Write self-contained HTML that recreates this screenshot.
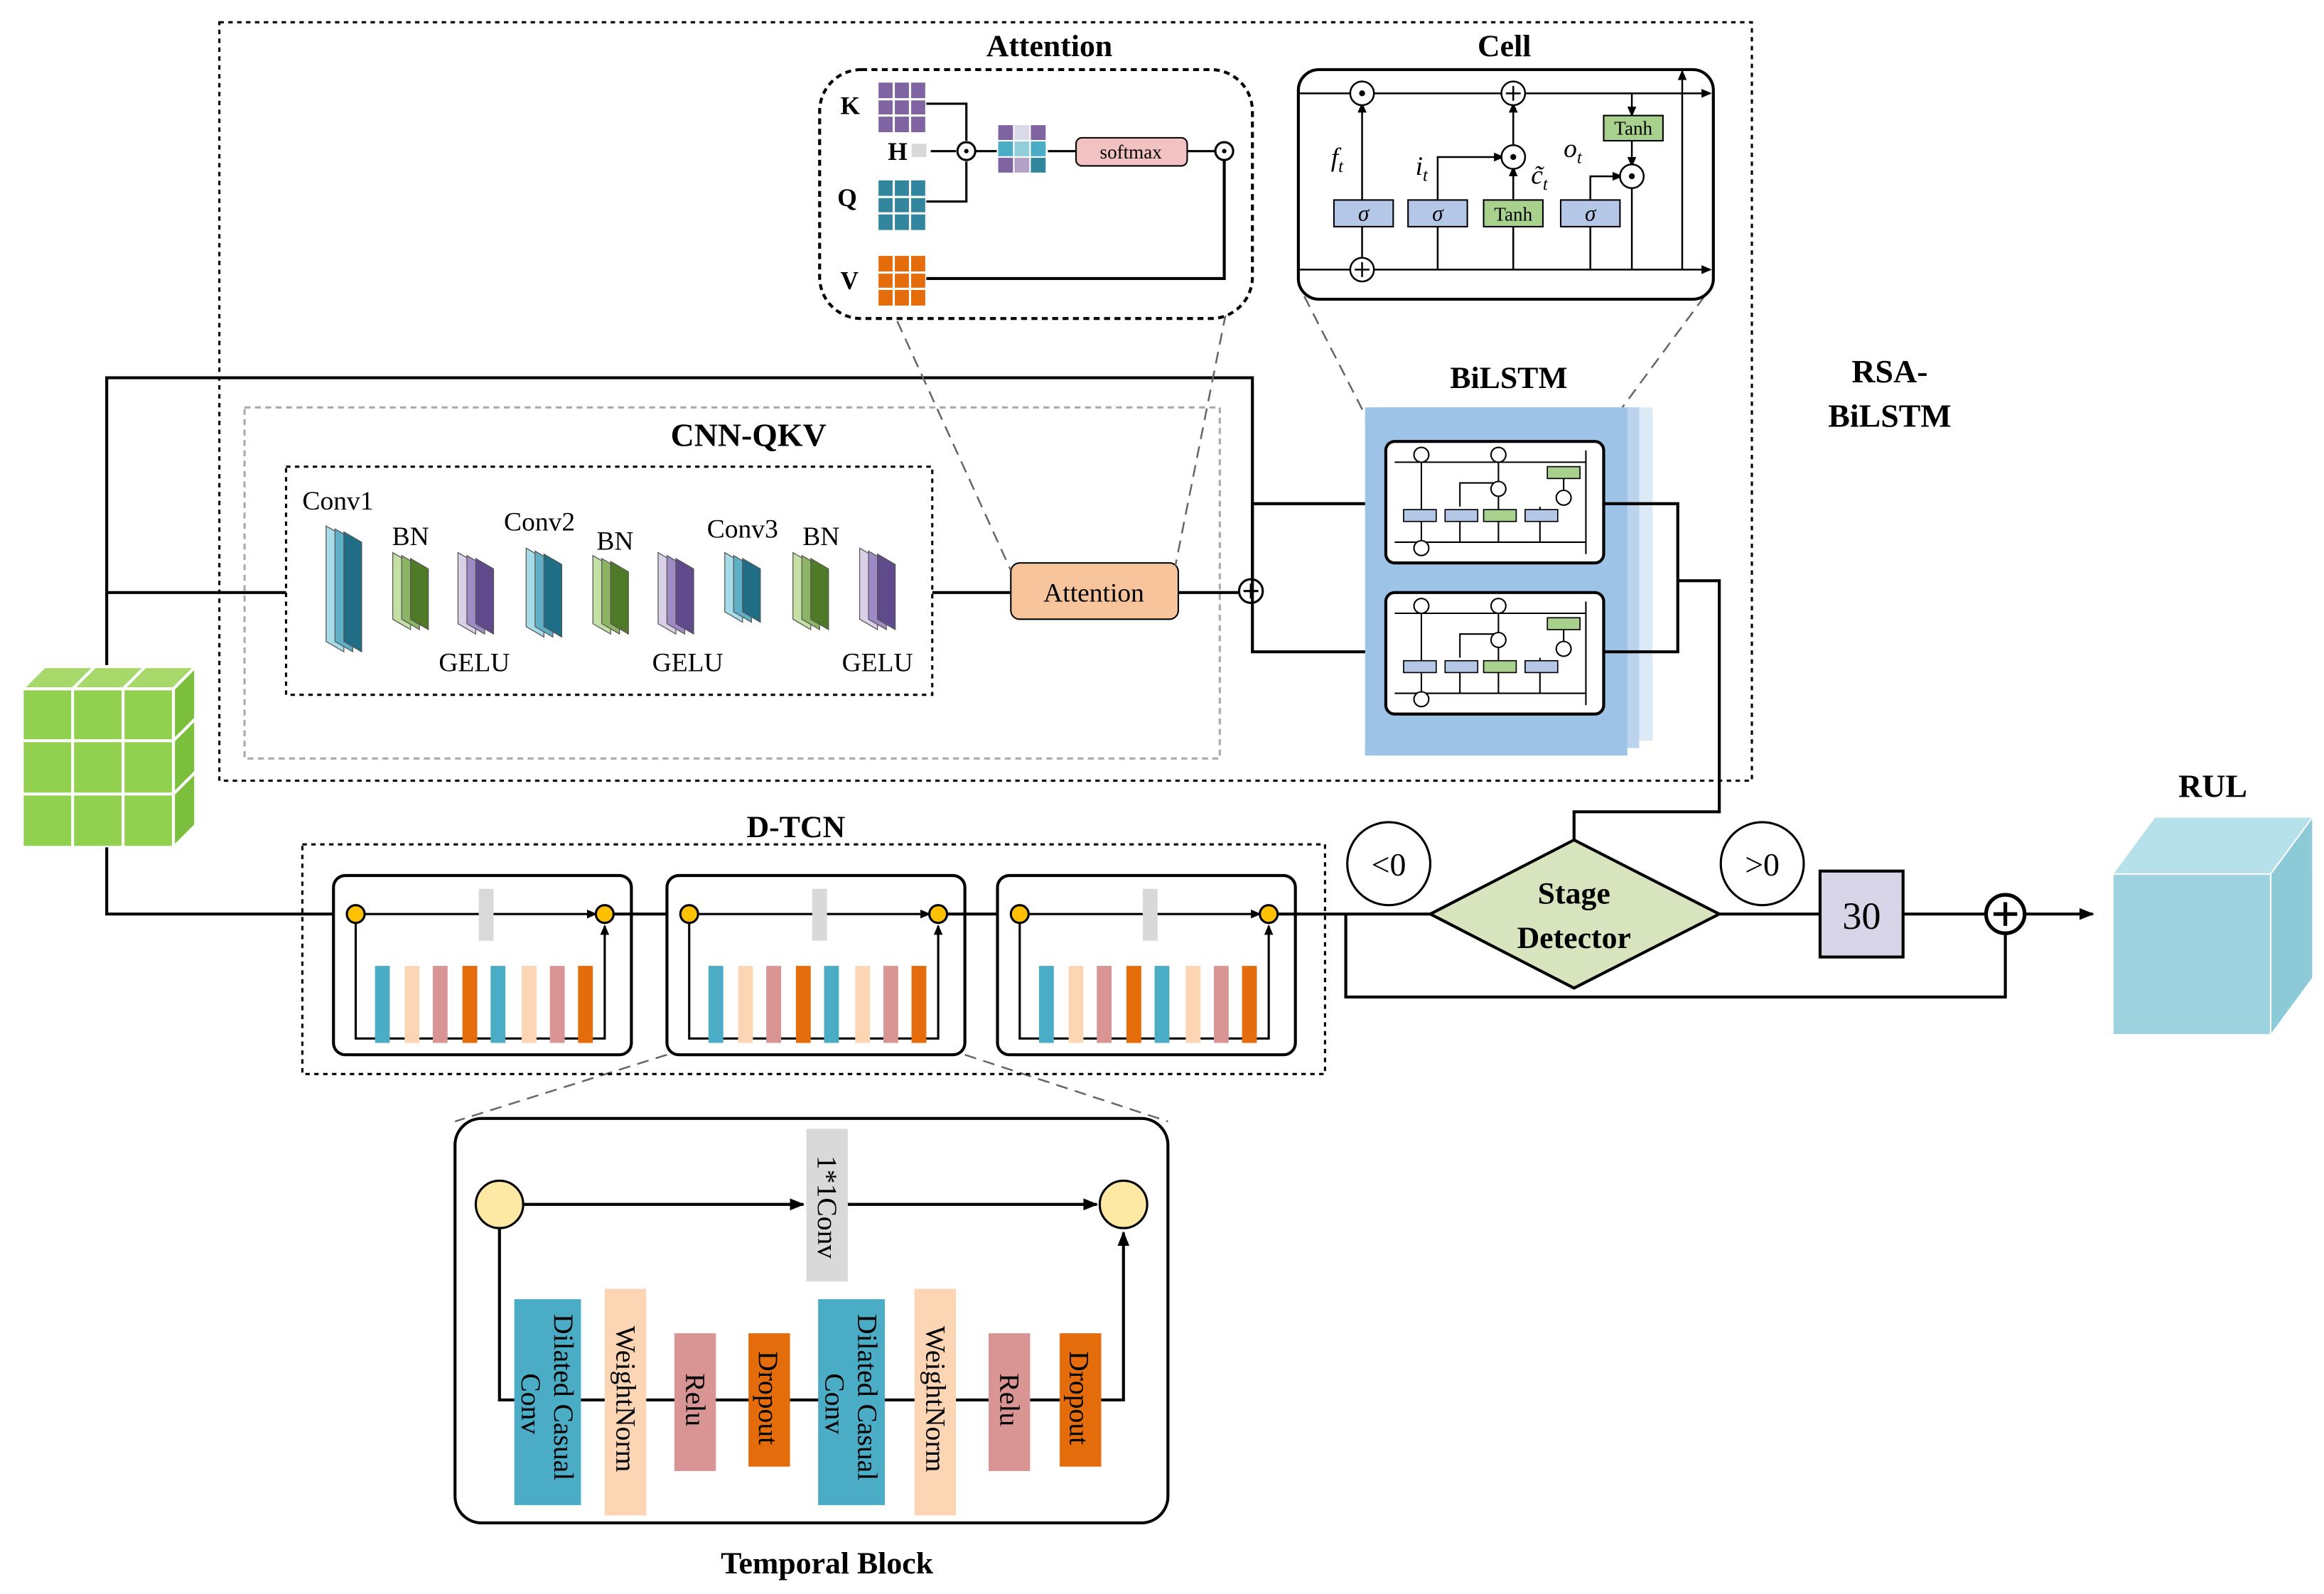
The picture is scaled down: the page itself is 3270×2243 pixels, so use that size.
<!DOCTYPE html>
<html><head><meta charset="utf-8"><style>
html,body{margin:0;padding:0;background:#fff;width:3270px;height:2243px;overflow:hidden}
svg{display:block}
text{font-family:"Liberation Serif",serif;fill:#000}
.b{font-weight:bold}
</style></head><body>
<svg width="3270" height="2243" viewBox="0 0 1568 1076" preserveAspectRatio="none" xmlns="http://www.w3.org/2000/svg">
<defs>
<marker id="ar" markerWidth="10" markerHeight="10" refX="9" refY="5" orient="auto" markerUnits="userSpaceOnUse"><path d="M0,1 L10,5 L0,9 z" fill="#000"/></marker>
<marker id="as" markerWidth="7" markerHeight="7" refX="6" refY="3.5" orient="auto" markerUnits="userSpaceOnUse"><path d="M0,0.5 L7,3.5 L0,6.5 z" fill="#000"/></marker>
<g id="tcn">
<rect x="0" y="0" width="201" height="121" rx="8" fill="#fff" stroke="#000" stroke-width="2"/>
<line x1="21" y1="26" x2="177" y2="26" stroke="#000" stroke-width="1.5" marker-end="url(#as)"/>
<rect x="98" y="9" width="10" height="35" fill="#d9d9d9"/>
<polyline points="15,32 15,110 183,110 183,34" fill="none" stroke="#000" stroke-width="1.5" marker-end="url(#as)"/>
<rect x="28" y="61" width="10" height="52" fill="#4bacc6"/>
<rect x="48" y="61" width="10" height="52" fill="#fcd5b5"/>
<rect x="67" y="61" width="10" height="52" fill="#d99594"/>
<rect x="87" y="61" width="10" height="52" fill="#e46c0a"/>
<rect x="106" y="61" width="10" height="52" fill="#4bacc6"/>
<rect x="127" y="61" width="10" height="52" fill="#fcd5b5"/>
<rect x="146" y="61" width="10" height="52" fill="#d99594"/>
<rect x="165" y="61" width="10" height="52" fill="#e46c0a"/>
<circle cx="15" cy="26" r="6" fill="#ffc000" stroke="#000" stroke-width="1.5"/>
<circle cx="183" cy="26" r="6" fill="#ffc000" stroke="#000" stroke-width="1.5"/>
</g>
<g id="lstm">
<rect x="0" y="0" width="147" height="82" rx="6" fill="#fff" stroke="#000" stroke-width="2"/>
<line x1="6" y1="14" x2="135" y2="14" stroke="#000"/>
<line x1="6" y1="68" x2="135" y2="68" stroke="#000"/>
<line x1="135" y1="6" x2="135" y2="76" stroke="#000"/>
<line x1="24" y1="14" x2="24" y2="68" stroke="#000"/>
<line x1="50" y1="52" x2="50" y2="68" stroke="#000"/>
<polyline points="50,44 50,28 76,28" fill="none" stroke="#000"/>
<line x1="76" y1="14" x2="76" y2="68" stroke="#000"/>
<line x1="104" y1="44" x2="104" y2="68" stroke="#000"/>
<line x1="120" y1="20" x2="120" y2="40" stroke="#000"/>
<rect x="12" y="46" width="22" height="8" fill="#b4c7e7" stroke="#000" stroke-width="0.8"/>
<rect x="40" y="46" width="22" height="8" fill="#b4c7e7" stroke="#000" stroke-width="0.8"/>
<rect x="66" y="46" width="22" height="8" fill="#a9d18e" stroke="#000" stroke-width="0.8"/>
<rect x="94" y="46" width="22" height="8" fill="#b4c7e7" stroke="#000" stroke-width="0.8"/>
<rect x="109" y="17" width="22" height="8" fill="#a9d18e" stroke="#000" stroke-width="0.8"/>
<circle cx="24" cy="9" r="5" fill="#fff" stroke="#000"/>
<circle cx="76" cy="9" r="5" fill="#fff" stroke="#000"/>
<circle cx="76" cy="32" r="5" fill="#fff" stroke="#000"/>
<circle cx="120" cy="38" r="5" fill="#fff" stroke="#000"/>
<circle cx="24" cy="72" r="5" fill="#fff" stroke="#000"/>
</g>
</defs>

<rect x="148" y="15" width="1034" height="512" fill="none" stroke="#000" stroke-width="1.5" stroke-dasharray="3,3"/>
<text x="1275" y="258" font-size="22" class="b" text-anchor="middle">RSA-</text>
<text x="1275" y="288" font-size="22" class="b" text-anchor="middle">BiLSTM</text>

<polyline points="72,450 72,255 845,255 845,392" fill="none" stroke="#000" stroke-width="2"/>
<line x1="72" y1="400" x2="193" y2="400" stroke="#000" stroke-width="2"/>

<rect x="165" y="275" width="658" height="237" fill="none" stroke="#aaa" stroke-width="1.5" stroke-dasharray="4,3"/>
<text x="505" y="301" font-size="22" class="b" text-anchor="middle">CNN-QKV</text>
<rect x="193" y="315" width="436" height="154" fill="none" stroke="#000" stroke-width="1.5" stroke-dasharray="3,3"/>
<g stroke="#555" stroke-width="0.6">
<polygon points="220,355 232,362 232,440 220,433" fill="#a5dce8"/>
<polygon points="226,357 238,364 238,440 226,433" fill="#5fb0c6"/>
<polygon points="232,359 244,366 244,440 232,433" fill="#1f6e86"/>
<polygon points="265,373 277,380 277,425 265,418" fill="#c5e0a5"/>
<polygon points="271,375 283,382 283,425 271,418" fill="#8db464"/>
<polygon points="277,377 289,384 289,425 277,418" fill="#4f7a28"/>
<polygon points="309,373 321,380 321,428 309,421" fill="#d9d0e8"/>
<polygon points="315,375 327,382 327,428 315,421" fill="#9e8ac4"/>
<polygon points="321,377 333,384 333,428 321,421" fill="#5f4a8b"/>
<polygon points="355,370 367,377 367,430 355,423" fill="#a5dce8"/>
<polygon points="361,372 373,379 373,430 361,423" fill="#5fb0c6"/>
<polygon points="367,374 379,381 379,430 367,423" fill="#1f6e86"/>
<polygon points="400,375 412,382 412,428 400,421" fill="#c5e0a5"/>
<polygon points="406,377 418,384 418,428 406,421" fill="#8db464"/>
<polygon points="412,379 424,386 424,428 412,421" fill="#4f7a28"/>
<polygon points="444,373 456,380 456,428 444,421" fill="#d9d0e8"/>
<polygon points="450,375 462,382 462,428 450,421" fill="#9e8ac4"/>
<polygon points="456,377 468,384 468,428 456,421" fill="#5f4a8b"/>
<polygon points="489,373 501,380 501,420 489,413" fill="#a5dce8"/>
<polygon points="495,375 507,382 507,420 495,413" fill="#5fb0c6"/>
<polygon points="501,377 513,384 513,420 501,413" fill="#1f6e86"/>
<polygon points="535,373 547,380 547,425 535,418" fill="#c5e0a5"/>
<polygon points="541,375 553,382 553,425 541,418" fill="#8db464"/>
<polygon points="547,377 559,384 559,425 547,418" fill="#4f7a28"/>
<polygon points="580,370 592,377 592,425 580,418" fill="#d9d0e8"/>
<polygon points="586,372 598,379 598,425 586,418" fill="#9e8ac4"/>
<polygon points="592,374 604,381 604,425 592,418" fill="#5f4a8b"/>
</g>
<g font-size="18">
<text x="228" y="344" text-anchor="middle">Conv1</text>
<text x="277" y="368" text-anchor="middle">BN</text>
<text x="320" y="453" text-anchor="middle">GELU</text>
<text x="364" y="358" text-anchor="middle">Conv2</text>
<text x="415" y="371" text-anchor="middle">BN</text>
<text x="464" y="453" text-anchor="middle">GELU</text>
<text x="501" y="363" text-anchor="middle">Conv3</text>
<text x="554" y="368" text-anchor="middle">BN</text>
<text x="592" y="453" text-anchor="middle">GELU</text>
</g>
<line x1="629" y1="400" x2="682" y2="400" stroke="#000" stroke-width="2"/>
<rect x="682" y="380" width="113" height="38" rx="6" fill="#f8c49c" stroke="#000" stroke-width="1"/>
<text x="738" y="406" font-size="18" text-anchor="middle">Attention</text>
<line x1="795" y1="400" x2="836" y2="400" stroke="#000" stroke-width="2"/>
<circle cx="844" cy="399" r="8" fill="#fff" stroke="#000" stroke-width="1.5"/>
<line x1="839" y1="399" x2="849" y2="399" stroke="#000" stroke-width="1.5"/><line x1="844" y1="394" x2="844" y2="404" stroke="#000" stroke-width="1.5"/>
<polyline points="935,340 845,340 845,440 935,440" fill="none" stroke="#000" stroke-width="2"/>

<g stroke="#666" stroke-width="1.2" stroke-dasharray="8,5" fill="none">
<line x1="600" y1="205" x2="682" y2="385"/>
<line x1="827" y1="212" x2="793" y2="382"/>
<line x1="880" y1="200" x2="922" y2="282"/>
<line x1="1150" y1="200" x2="1085" y2="288"/>
<line x1="450" y1="712" x2="307" y2="757"/>
<line x1="651" y1="712" x2="788" y2="757"/>
</g>

<text x="708" y="38" font-size="21" class="b" text-anchor="middle">Attention</text>
<rect x="553" y="47" width="292" height="168" rx="28" fill="#fff" stroke="#000" stroke-width="2" stroke-dasharray="4,3"/>
<g font-size="17" class="b">
<text x="567" y="77">K</text><text x="599" y="108">H</text><text x="565" y="139">Q</text><text x="567" y="195">V</text>
</g>
<g stroke="#fff" stroke-width="1.5">
<rect x="592" y="55" width="33" height="35" fill="#8064a2"/>
<rect x="592" y="121" width="33" height="35" fill="#31859c"/>
<rect x="592" y="172" width="33" height="35" fill="#e46c0a"/>
<line x1="603" y1="55" x2="603" y2="90"/><line x1="614" y1="55" x2="614" y2="90"/><line x1="592" y1="67" x2="625" y2="67"/><line x1="592" y1="78" x2="625" y2="78"/>
<line x1="603" y1="121" x2="603" y2="156"/><line x1="614" y1="121" x2="614" y2="156"/><line x1="592" y1="133" x2="625" y2="133"/><line x1="592" y1="144" x2="625" y2="144"/>
<line x1="603" y1="172" x2="603" y2="207"/><line x1="614" y1="172" x2="614" y2="207"/><line x1="592" y1="184" x2="625" y2="184"/><line x1="592" y1="195" x2="625" y2="195"/>
</g>
<rect x="615" y="97" width="10" height="9" fill="#d9d9d9"/>
<polyline points="625,70 652,70 652,95" fill="none" stroke="#000" stroke-width="1.5"/>
<polyline points="625,136 652,136 652,109" fill="none" stroke="#000" stroke-width="1.5"/>
<line x1="628" y1="102" x2="645" y2="102" stroke="#000" stroke-width="1.5"/>
<circle cx="652" cy="102" r="6" fill="#fff" stroke="#000" stroke-width="1.5"/><circle cx="652" cy="102" r="1.5"/>
<line x1="658" y1="102" x2="673" y2="102" stroke="#000" stroke-width="1.5"/>
<g stroke="#fff" stroke-width="1">
<rect x="673" y="84" width="11" height="11" fill="#8064a2"/><rect x="684" y="84" width="11" height="11" fill="#d9d9e8"/><rect x="695" y="84" width="11" height="11" fill="#8064a2"/>
<rect x="673" y="95" width="11" height="11" fill="#4bacc6"/><rect x="684" y="95" width="11" height="11" fill="#92cddc"/><rect x="695" y="95" width="11" height="11" fill="#4bacc6"/>
<rect x="673" y="106" width="11" height="11" fill="#8064a2"/><rect x="684" y="106" width="11" height="11" fill="#b2a2c7"/><rect x="695" y="106" width="11" height="11" fill="#31859c"/>
</g>
<line x1="707" y1="102" x2="726" y2="102" stroke="#000" stroke-width="1.5"/>
<rect x="726" y="93" width="75" height="19" rx="4" fill="#f2c2c2" stroke="#000" stroke-width="1"/>
<text x="763" y="107" font-size="13" text-anchor="middle">softmax</text>
<line x1="801" y1="102" x2="820" y2="102" stroke="#000" stroke-width="1.5"/>
<circle cx="826" cy="102" r="6" fill="#fff" stroke="#000" stroke-width="1.5"/><circle cx="826" cy="102" r="1.5"/>
<polyline points="625,188 826,188 826,108" fill="none" stroke="#000" stroke-width="2"/>

<text x="1015" y="38" font-size="21" class="b" text-anchor="middle">Cell</text>
<rect x="876" y="47" width="280" height="155" rx="14" fill="#fff" stroke="#000" stroke-width="2"/>
<g stroke="#000" stroke-width="1.2" fill="none">
<line x1="877" y1="63" x2="1154" y2="63" marker-end="url(#as)"/>
<line x1="877" y1="182" x2="1154" y2="182" marker-end="url(#as)"/>
<line x1="1135" y1="182" x2="1135" y2="48" marker-end="url(#as)"/>
<line x1="919" y1="135" x2="919" y2="70" marker-end="url(#as)"/>
<line x1="919" y1="182" x2="919" y2="153"/>
<line x1="970" y1="182" x2="970" y2="153"/>
<polyline points="970,135 970,106 1014,106" marker-end="url(#as)"/>
<line x1="1021" y1="182" x2="1021" y2="153"/>
<line x1="1021" y1="135" x2="1021" y2="113" marker-end="url(#as)"/>
<line x1="1021" y1="99" x2="1021" y2="70" marker-end="url(#as)"/>
<line x1="1073" y1="182" x2="1073" y2="153"/>
<polyline points="1073,135 1073,119 1094,119" marker-end="url(#as)"/>
<line x1="1101" y1="63" x2="1101" y2="78" marker-end="url(#as)"/>
<line x1="1101" y1="95" x2="1101" y2="112" marker-end="url(#as)"/>
<polyline points="1101,126 1101,182"/>
</g>
<g stroke="#000" stroke-width="1">
<rect x="900" y="135" width="40" height="18" fill="#b4c7e7"/>
<rect x="950" y="135" width="40" height="18" fill="#b4c7e7"/>
<rect x="1001" y="135" width="40" height="18" fill="#a9d18e"/>
<rect x="1053" y="135" width="40" height="18" fill="#b4c7e7"/>
<rect x="1082" y="78" width="40" height="17" fill="#a9d18e"/>
</g>
<g font-size="15" font-style="italic" text-anchor="middle">
<text x="920" y="149">σ</text><text x="970" y="149">σ</text><text x="1073" y="149">σ</text>
</g>
<text x="1021" y="149" font-size="13" text-anchor="middle">Tanh</text>
<text x="1102" y="91" font-size="13" text-anchor="middle">Tanh</text>
<g fill="#fff" stroke="#000" stroke-width="1.2">
<circle cx="919" cy="63" r="8"/><circle cx="1021" cy="63" r="8"/><circle cx="1021" cy="106" r="8"/><circle cx="1101" cy="119" r="8"/><circle cx="919" cy="182" r="8"/>
</g>
<circle cx="919" cy="63" r="2"/><circle cx="1021" cy="106" r="2"/><circle cx="1101" cy="119" r="2"/>
<g stroke="#000" stroke-width="1.2">
<line x1="1016" y1="63" x2="1026" y2="63"/><line x1="1021" y1="58" x2="1021" y2="68"/>
<line x1="914" y1="182" x2="924" y2="182"/><line x1="919" y1="177" x2="919" y2="187"/>
</g>
<g font-size="18" font-style="italic">
<text x="898" y="112">f<tspan font-size="12" dy="4">t</tspan></text>
<text x="955" y="118">i<tspan font-size="12" dy="4">t</tspan></text>
<text x="1033" y="124">c̃<tspan font-size="12" dy="4">t</tspan></text>
<text x="1055" y="106">o<tspan font-size="12" dy="4">t</tspan></text>
</g>

<text x="1018" y="262" font-size="21" class="b" text-anchor="middle">BiLSTM</text>
<rect x="935" y="275" width="180" height="225" fill="#dce9f7"/>
<rect x="928" y="275" width="178" height="230" fill="#bcd3ee"/>
<rect x="921" y="275" width="177" height="235" fill="#9dc3e6"/>
<use href="#lstm" x="935" y="298"/>
<use href="#lstm" x="935" y="400"/>
<polyline points="1082,340 1132,340 1132,440 1082,440" fill="none" stroke="#000" stroke-width="2"/>
<polyline points="1132,392 1160,392 1160,548 1062,548 1062,570" fill="none" stroke="#000" stroke-width="2"/>

<polygon points="15,465 30,450 132,450 117,465" fill="#a6d96a" stroke="#fff" stroke-width="2"/>
<polygon points="117,465 132,450 132,557 117,572" fill="#7cbf3c" stroke="#fff" stroke-width="2"/>
<rect x="15" y="465" width="102" height="107" fill="#92d050" stroke="#fff" stroke-width="2"/>
<g stroke="#fff" stroke-width="2"><line x1="49" y1="465" x2="49" y2="572"/><line x1="83" y1="465" x2="83" y2="572"/><line x1="15" y1="500" x2="117" y2="500"/><line x1="15" y1="536" x2="117" y2="536"/>
<line x1="49" y1="465" x2="64" y2="450"/><line x1="83" y1="465" x2="98" y2="450"/><line x1="117" y1="500" x2="132" y2="485"/><line x1="117" y1="536" x2="132" y2="521"/></g>

<polyline points="72,572 72,617 225,617" fill="none" stroke="#000" stroke-width="2"/>
<text x="537" y="565" font-size="21" class="b" text-anchor="middle">D-TCN</text>
<rect x="204" y="570" width="690" height="155" fill="none" stroke="#000" stroke-width="1.5" stroke-dasharray="3,3"/>
<use href="#tcn" x="225" y="591"/>
<use href="#tcn" x="450" y="591"/>
<use href="#tcn" x="673" y="591"/>
<line x1="414" y1="617" x2="450" y2="617" stroke="#000" stroke-width="2"/>
<line x1="639" y1="617" x2="673" y2="617" stroke="#000" stroke-width="2"/>
<line x1="862" y1="617" x2="965" y2="617" stroke="#000" stroke-width="2"/>
<polyline points="908,617 908,673 1353,673 1353,631" fill="none" stroke="#000" stroke-width="2"/>

<polygon points="965,617 1062,567 1160,617 1062,667" fill="#d7e4bd" stroke="#000" stroke-width="2"/>
<text x="1062" y="610" font-size="21" class="b" text-anchor="middle">Stage</text>
<text x="1062" y="640" font-size="21" class="b" text-anchor="middle">Detector</text>
<circle cx="937" cy="583" r="28" fill="#fff" stroke="#000" stroke-width="1.5"/>
<text x="937" y="591" font-size="22" text-anchor="middle">&lt;0</text>
<circle cx="1189" cy="583" r="28" fill="#fff" stroke="#000" stroke-width="1.5"/>
<text x="1189" y="591" font-size="22" text-anchor="middle">&gt;0</text>
<line x1="1160" y1="617" x2="1228" y2="617" stroke="#000" stroke-width="2"/>
<rect x="1228" y="588" width="56" height="58" fill="#d9d5e8" stroke="#000" stroke-width="2"/>
<text x="1256" y="627" font-size="26" text-anchor="middle">30</text>
<line x1="1284" y1="617" x2="1340" y2="617" stroke="#000" stroke-width="2"/>
<circle cx="1353" cy="617" r="13" fill="#fff" stroke="#000" stroke-width="2.5"/>
<line x1="1345" y1="617" x2="1361" y2="617" stroke="#000" stroke-width="2.5"/><line x1="1353" y1="609" x2="1353" y2="625" stroke="#000" stroke-width="2.5"/>
<line x1="1366" y1="617" x2="1412" y2="617" stroke="#000" stroke-width="2" marker-end="url(#ar)"/>
<text x="1493" y="538" font-size="22" class="b" text-anchor="middle">RUL</text>
<polygon points="1426,590 1454,552 1560,552 1532,590" fill="#b7e1ea"/>
<polygon points="1532,590 1560,552 1560,660 1532,698" fill="#8ccad8"/>
<rect x="1426" y="590" width="106" height="108" fill="#9dd3df"/>
<polyline points="1426,590 1532,590 1532,698" fill="none" stroke="#fff" stroke-width="1"/>
<line x1="1532" y1="590" x2="1560" y2="552" stroke="#fff"/>

<rect x="307" y="755" width="481" height="273" rx="18" fill="#fff" stroke="#000" stroke-width="2"/>
<line x1="353" y1="813" x2="542" y2="813" stroke="#000" stroke-width="2" marker-end="url(#ar)"/>
<line x1="572" y1="813" x2="740" y2="813" stroke="#000" stroke-width="2" marker-end="url(#ar)"/>
<polyline points="337,829 337,945 758,945 758,832" fill="none" stroke="#000" stroke-width="2" marker-end="url(#ar)"/>
<rect x="544" y="762" width="28" height="103" fill="#d9d9d9"/>
<rect x="347" y="877" width="45" height="139" fill="#4bacc6"/>
<rect x="408" y="870" width="28" height="153" fill="#fcd5b5"/>
<rect x="455" y="900" width="28" height="93" fill="#d99594"/>
<rect x="505" y="900" width="28" height="90" fill="#e46c0a"/>
<rect x="552" y="877" width="45" height="139" fill="#4bacc6"/>
<rect x="617" y="870" width="28" height="153" fill="#fcd5b5"/>
<rect x="667" y="900" width="28" height="93" fill="#d99594"/>
<rect x="715" y="900" width="28" height="90" fill="#e46c0a"/>
<g font-size="19">
<text transform="translate(552,780) rotate(90)">1*1Conv</text>
<text transform="translate(374,887) rotate(90)">Dilated Casual</text>
<text transform="translate(352,927) rotate(90)">Conv</text>
<text transform="translate(416,895) rotate(90)">WeightNorm</text>
<text transform="translate(463,927) rotate(90)">Relu</text>
<text transform="translate(512,912) rotate(90)">Dropout</text>
<text transform="translate(579,887) rotate(90)">Dilated Casual</text>
<text transform="translate(557,927) rotate(90)">Conv</text>
<text transform="translate(625,895) rotate(90)">WeightNorm</text>
<text transform="translate(675,927) rotate(90)">Relu</text>
<text transform="translate(722,912) rotate(90)">Dropout</text>
</g>
<circle cx="337" cy="813" r="16" fill="#fde9a3" stroke="#000" stroke-width="1.5"/>
<circle cx="758" cy="813" r="16" fill="#fde9a3" stroke="#000" stroke-width="1.5"/>
<text x="558" y="1062" font-size="21" class="b" text-anchor="middle">Temporal Block</text>
</svg>
</body></html>
